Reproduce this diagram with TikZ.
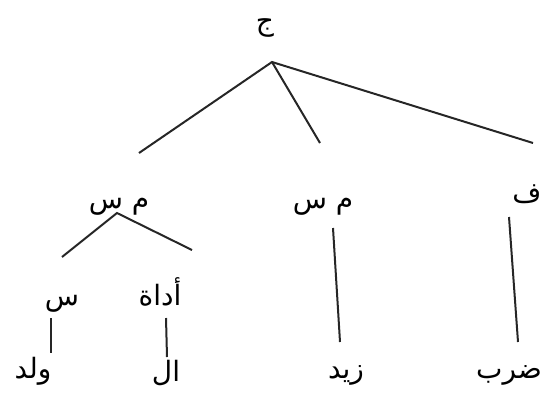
\documentclass[tikz,border=0pt]{standalone}
\usepackage{fontspec}
\newfontfamily\arabicfont[Script=Arabic]{DejaVu Sans}
\TeXXeTstate=1
\begin{document}
\begin{tikzpicture}[x=1pt,y=-1pt,
  lbl/.style={inner sep=0pt,font=\arabicfont\fontsize{28}{32}\selectfont},
  edge/.style={line width=2pt,color=black!85}]
\useasboundingbox (0,0) rectangle (545,394);
% labels
\node[lbl] (J)   at (265,28)  {\beginR ج\endR};
\node[lbl] (MSL) at (119,207) {\beginR م س\endR};
\node[lbl] (MSM) at (323,207) {\beginR م س\endR};
\node[lbl] (F)   at (527,194) {\beginR ف\endR};
\node[lbl] (S)   at (62,304)  {\beginR س\endR};
\node[lbl] (ADA) at (160,292) {\beginR أداة\endR};
\node[lbl] (WLD) at (33,371)  {\beginR ولد\endR};
\node[lbl] (AL)  at (166,373) {\beginR ال\endR};
\node[lbl] (ZYD) at (346,375) {\beginR زيد\endR};
\node[lbl] (DRB) at (509,375) {\beginR ضرب\endR};
% connector ends
\coordinate (jA) at (272,62);
\coordinate (jL) at (139,153);
\coordinate (jM) at (320,143);
\coordinate (jR) at (533,143);
\coordinate (mA) at (117,213);
\coordinate (mL) at (62,257);
\coordinate (mR) at (192,250);
\coordinate (sT) at (51,318);
\coordinate (sB) at (51,353);
\coordinate (aT) at (166,318);
\coordinate (aB) at (167,357);
\coordinate (zT) at (333,228);
\coordinate (zB) at (340,342);
\coordinate (fT) at (509,217);
\coordinate (fB) at (518,342);
% connectors
\draw[edge] (jL) -- (jA) -- (jR);
\draw[edge] (jA) -- (jM);
\draw[edge] (mL) -- (mA) -- (mR);
\draw[edge] (sT) -- (sB);
\draw[edge] (aT) -- (aB);
\draw[edge] (zT) -- (zB);
\draw[edge] (fT) -- (fB);
\end{tikzpicture}
\end{document}
